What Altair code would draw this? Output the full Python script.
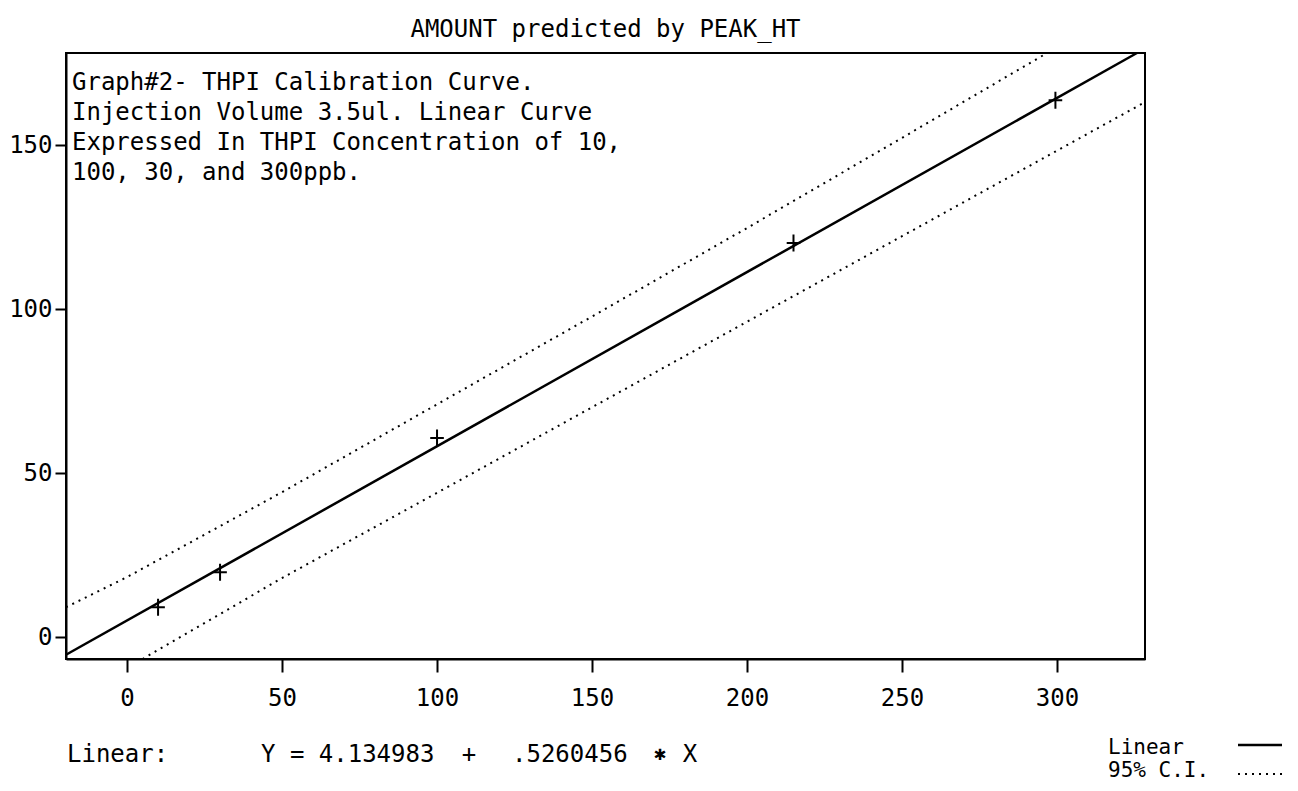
import altair as alt
import pandas as pd

# ---- data ----
x_ticks = [0, 50, 100, 150, 200, 250, 300]
y_ticks = [0, 50, 100, 150]
obs_x = [10, 30, 100, 215, 299.5]
obs_y = [9.1, 19.8, 60.7, 120.2, 163.8]
fit_x = [-19.7, 325.8]
fit_y = [-5.4, 178.2]
upper_x = [-19.7, 0, 50, 100, 150, 200, 250, 296.8]
upper_y = [9.1, 18.3, 44.2, 71.0, 97.8, 124.8, 152.3, 178.2]
lower_x = [5, 50, 100, 150, 200, 250, 300, 328.4]
lower_y = [-6.7, 18.0, 44.0, 70.1, 96.2, 122.3, 148.4, 163.2]
title_text = "AMOUNT predicted by PEAK_HT"
note_lines = ["Graph#2- THPI Calibration Curve.",
              "Injection Volume 3.5ul. Linear Curve",
              "Expressed In THPI Concentration of 10,",
              "100, 30, and 300ppb."]
eq_label = "Linear:"
eq_parts = ["Y = 4.134983", "+", ".5260456", "\u2731", "X"]
legend_labels = ["Linear", "95% C.I."]

FONT = "DejaVu Sans Mono"
FS = 24

x_dom = [-19.7, 328.4]
y_dom = [-6.7, 178.2]

xs = alt.Scale(domain=x_dom, nice=False, zero=False)
ys = alt.Scale(domain=y_dom, nice=False, zero=False)

x_axis = alt.Axis(values=x_ticks, tickSize=13, tickWidth=2, tickColor="black",
                  domainColor="black", domainWidth=2, labelFont=FONT,
                  labelFontSize=FS, labelColor="black", labelPadding=14,
                  grid=False, title=None, labelFlush=False, labelOverlap=False)
y_axis = alt.Axis(values=y_ticks, tickSize=11, tickWidth=2, tickColor="black",
                  domainColor="black", domainWidth=2, labelFont=FONT,
                  labelFontSize=FS, labelColor="black", labelPadding=3,
                  grid=False, title=None, labelFlush=False, labelOverlap=False)

fit_df = pd.DataFrame({"x": fit_x, "y": fit_y})
up_df = pd.DataFrame({"x": upper_x, "y": upper_y})
lo_df = pd.DataFrame({"x": lower_x, "y": lower_y})
obs_df = pd.DataFrame({"x": obs_x, "y": obs_y})

fit = alt.Chart(fit_df).mark_line(color="black", strokeWidth=2.5).encode(
    x=alt.X("x:Q", scale=xs, axis=x_axis),
    y=alt.Y("y:Q", scale=ys, axis=y_axis),
)
upper = alt.Chart(up_df).mark_line(color="black", strokeWidth=2, strokeDash=[2, 5]).encode(
    x=alt.X("x:Q", scale=xs), y=alt.Y("y:Q", scale=ys))
lower = alt.Chart(lo_df).mark_line(color="black", strokeWidth=2, strokeDash=[2, 5]).encode(
    x=alt.X("x:Q", scale=xs), y=alt.Y("y:Q", scale=ys))
points = alt.Chart(obs_df).mark_point(
    shape="M-0.8,0H0.8M0,-1V1", size=289, filled=False, color="black", strokeWidth=2, opacity=1
).encode(x=alt.X("x:Q", scale=xs), y=alt.Y("y:Q", scale=ys))


def txt(s, x, y, align="left", size=FS):
    return alt.Chart(pd.DataFrame({"t": [s]})).mark_text(
        align=align, baseline="alphabetic", font=FONT, fontSize=size, color="black"
    ).encode(text="t:N", x=alt.value(x), y=alt.value(y))


title = txt(title_text, 539.5, -16, align="center")
note = alt.Chart(pd.DataFrame({"t": ["\n".join(note_lines)]})).mark_text(
    align="left", baseline="alphabetic", font=FONT, fontSize=FS, color="black",
    lineBreak="\n", lineHeight=30
).encode(text="t:N", x=alt.value(6), y=alt.value(37))

eq = [
    txt(eq_label, 1, 709),
    txt(eq_parts[0], 195, 709),
    txt(eq_parts[1], 403, 709, align="center"),
    txt(eq_parts[2], 446, 709),
    txt(eq_parts[3], 594, 707, align="center", size=20),
    txt(eq_parts[4], 624, 709, align="center"),
]
leg = [
    txt(legend_labels[0], 1042, 701, size=21),
    txt(legend_labels[1], 1042, 724, size=21),
]
one = pd.DataFrame({"a": [0]})
leg_solid = alt.Chart(one).mark_rule(color="black", strokeWidth=2.5).encode(
    x=alt.value(1172), x2=alt.value(1216), y=alt.value(692))
leg_dot = alt.Chart(one).mark_rule(color="black", strokeWidth=2, strokeDash=[2, 5]).encode(
    x=alt.value(1172), x2=alt.value(1216), y=alt.value(721))

chart = alt.layer(fit, upper, lower, points, title, note, *eq, *leg, leg_solid, leg_dot).properties(
    width=1079, height=606,
    padding={"left": 58, "top": 45, "right": 140, "bottom": 123},
    autosize=alt.AutoSizeParams(type="none"),
    background="white",
).configure_view(stroke="black", strokeWidth=2)

chart.save("out.html", embed_options={"renderer": "svg", "actions": False})
